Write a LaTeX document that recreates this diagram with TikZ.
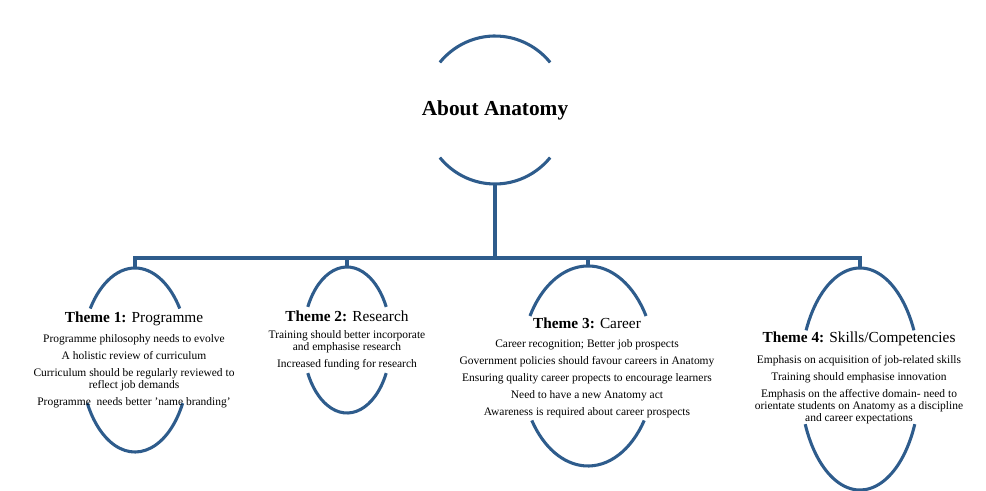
\documentclass[tikz,border=0pt]{standalone}
\usepackage{fontspec}
\setmainfont{Liberation Serif}
\definecolor{ovalblue}{RGB}{46,92,140}
\tikzset{every picture/.style={line width=0.75pt}}
\tikzset{
  oval/.style={draw=ovalblue, line width=2.3pt},
  link/.style={draw=ovalblue, line width=2.3pt},
  heading/.style={font=\fontsize{11.5}{13}\selectfont},
  items/.style={font=\fontsize{8.6}{9}\selectfont, align=center, anchor=north, inner sep=0pt},
}
% #1 centre, #2 rx, #3 ry, #4 top gap angle, #5 bottom gap angle
\newcommand{\themeoval}[5]{%
  \draw [oval] ([shift={(180+#4:#2 and #3)}]#1) arc [start angle=180+#4, end angle=360-#4, x radius=#2, y radius=#3];
  \draw [oval] ([shift={(#5:#2 and #3)}]#1) arc [start angle=#5, end angle=180-#5, x radius=#2, y radius=#3];
}

\begin{document}
\begin{tikzpicture}[x=0.75pt,y=0.75pt,yscale=-1,xscale=1]
	\useasboundingbox (0,0) rectangle (986,491);

	% centres
	\coordinate (cmain) at (495,110);
	\coordinate (c1) at (135,360);
	\coordinate (c2) at (347,340);
	\coordinate (c3) at (588,366);
	\coordinate (c4) at (860,379);

	% Ovals
	\themeoval{cmain}{72}{74}{40}{40}
	\themeoval{c1}{54}{92}{34}{28}
	\themeoval{c2}{44}{73}{27}{27}
	\themeoval{c3}{67}{100}{30}{33}
	\themeoval{c4}{60}{111}{26}{24}

	% Connectors
	\coordinate (mainbot) at (495,184);
	\coordinate (jmain) at (495,258);
	\coordinate (j1) at (135,258);
	\coordinate (j2) at (347,258);
	\coordinate (j3) at (588,258);
	\coordinate (j4) at (860,258);
	\coordinate (t1) at (135,268);
	\coordinate (t2) at (347,267);
	\coordinate (t3) at (588,266);
	\coordinate (t4) at (860,268);
	\draw [link] (mainbot) -- (jmain);
	\draw [link, line cap=rect] (j1) -- (j4);
	\draw [link] (j1) -- (t1);
	\draw [link] (j2) -- (t2);
	\draw [link] (j3) -- (t3);
	\draw [link] (j4) -- (t4);

	% Text Node
	\node (about) at (495,110) {\fontsize{16}{18}\selectfont\bfseries About Anatomy};
	% Text Node
	\node [heading] (h1) at (134,319) {\textbf{Theme 1:} Programme};
	\node [items] (b1) at (134,334) {Programme philosophy needs to evolve\\[3.8pt]
		A holistic review of curriculum\\[3.8pt]
		Curriculum should be regularly reviewed to\\reflect job demands\\[3.8pt]
		Programme\ \ needs better 'name branding'};
	% Text Node
	\node [heading] (h2) at (347,316) {\textbf{Theme 2:} Research};
	\node [items] (b2) at (347,330) {Training should better incorporate\\and emphasise research\\[3.8pt]
		Increased funding for research};
	% Text Node
	\node [heading] (h3) at (587,323) {\textbf{Theme 3:} Career};
	\node [items] (b3) at (587,339) {Career recognition; Better job prospects\\[3.8pt]
		Government policies should favour careers in Anatomy\\[3.8pt]
		Ensuring quality career propects to encourage learners\\[3.8pt]
		Need to have a new Anatomy act\\[3.8pt]
		Awareness is required about career prospects};
	% Text Node
	\node [heading] (h4) at (859,339) {\textbf{Theme 4:} Skills/Competencies};
	\node [items] (b4) at (859,355) {Emphasis on acquisition of job-related skills\\[3.8pt]
		Training should emphasise innovation\\[3.8pt]
		Emphasis on the affective domain- need to\\orientate students on Anatomy as a discipline\\and career expectations};

\end{tikzpicture}
\end{document}
